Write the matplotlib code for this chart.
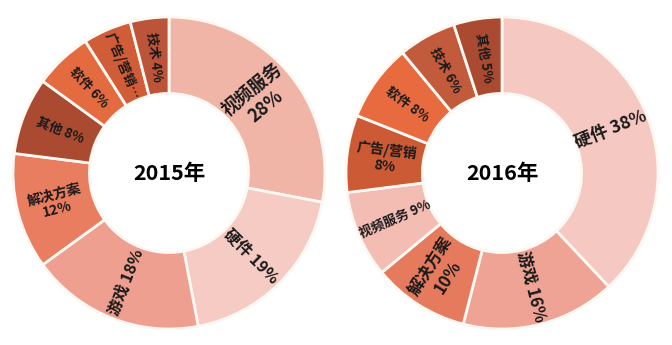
import numpy as np
import matplotlib
matplotlib.use('Agg')
from matplotlib import pyplot as plt

plt.rcParams['font.family'] = ['Noto Sans CJK SC', 'DejaVu Sans']

# 2015 shares, clockwise from 12 o'clock
labels_2015 = ['视频服务', '硬件', '游戏', '解决方案', '其他', '软件', '广告/营销', '技术']
values_2015 = [28, 19, 18, 12, 8, 6, 5, 4]

# 2016 shares, clockwise from 12 o'clock
labels_2016 = ['硬件', '游戏', '解决方案', '视频服务', '广告/营销', '软件', '技术', '其他']
values_2016 = [38, 16, 10, 9, 8, 8, 6, 5]

colors_2015 = ['#f1b5a8', '#f5cbc4', '#ee9f90', '#e97d5f', '#aa4a30', '#e46a40', '#d05c38', '#bb5438']
colors_2016 = ['#f5c8c1', '#eea394', '#e67a5c', '#f3bdb3', '#cc5a34', '#e86b40', '#c25a3c', '#aa4a30']

fonts_2015 = [13, 11.5, 11.5, 10, 9.5, 9.5, 9.5, 9.5]
fonts_2016 = [12.5, 12, 12, 9.5, 10, 9.5, 9.5, 9.5]

split_2015 = {'视频服务', '解决方案'}
split_2016 = {'解决方案', '广告/营销'}
# slice too thin for its full label
cut_2015 = {'广告/营销'}


def donut(ax, center, title, labels, values, colors, fonts, split, cut=()):
    radius = 156
    wedges, _ = ax.pie(values, colors=colors, startangle=90, counterclock=False,
                       center=center, radius=radius,
                       wedgeprops=dict(width=radius * 0.49, edgecolor='#fdf8f2', linewidth=2))
    for w, name, v, fs in zip(wedges, labels, values, fonts):
        mid = (w.theta1 + w.theta2) / 2
        r = radius * 0.75
        x = center[0] + r * np.cos(np.radians(mid))
        y = center[1] + r * np.sin(np.radians(mid))
        rot = (mid + 90) % 180 - 90
        if name in cut:
            txt = name + '…'
        else:
            sep = '\n' if name in split else ' '
            txt = f'{name}{sep}{v}%'
        ax.text(x, y, txt, rotation=rot, rotation_mode='anchor',
                ha='center', va='center', fontsize=fs, fontweight='bold',
                color='#1a1a1a', linespacing=1.1, multialignment='center')
    ax.text(center[0], center[1], title, ha='center', va='center',
            fontsize=15.5, fontweight='bold', color='black')


fig = plt.figure(figsize=(6.72, 3.45), dpi=100)
ax = fig.add_axes([0, 0, 1, 1])

donut(ax, (169, 172), '2015年', labels_2015, values_2015, colors_2015, fonts_2015,
      split_2015, cut_2015)
donut(ax, (502, 172), '2016年', labels_2016, values_2016, colors_2016, fonts_2016, split_2016)

ax.set_xlim(0, 672)
ax.set_ylim(0, 345)
ax.set_aspect('equal')
ax.axis('off')

fig.savefig('out.png', dpi=100, facecolor='white')
